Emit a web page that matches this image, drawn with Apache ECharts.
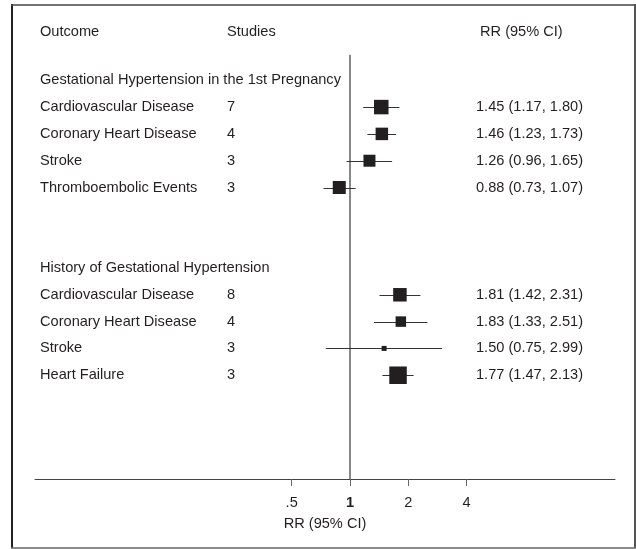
<!DOCTYPE html>
<html><head><meta charset="utf-8">
<script src="https://cdn.jsdelivr.net/npm/echarts@6/dist/echarts.min.js"></script>
<style>html,body{margin:0;padding:0;background:#fff}#c{width:636px;height:549px}</style>
</head><body><div id="c"></div>
<script>
// ---- data ----
var headers = ['Outcome', 'Studies', 'RR (95% CI)'];
var groupTitles = ['Gestational Hypertension in the 1st Pregnancy', 'History of Gestational Hypertension'];
var group1Outcomes = ['Cardiovascular Disease', 'Coronary Heart Disease', 'Stroke', 'Thromboembolic Events'];
var group1Studies = [7, 4, 3, 3];
var group1RR = [1.45, 1.46, 1.26, 0.88];
var group1Lo = [1.17, 1.23, 0.96, 0.73];
var group1Hi = [1.80, 1.73, 1.65, 1.07];
var group1Weight = [14.5, 12.5, 12, 13];
var group2Outcomes = ['Cardiovascular Disease', 'Coronary Heart Disease', 'Stroke', 'Heart Failure'];
var group2Studies = [8, 4, 3, 3];
var group2RR = [1.81, 1.83, 1.50, 1.77];
var group2Lo = [1.42, 1.33, 0.75, 1.47];
var group2Hi = [2.31, 2.51, 2.99, 2.13];
var group2Weight = [13.5, 10.5, 5, 17.5];
var tickValues = [0.5, 1, 2, 4];
var tickLabels = ['.5', '1', '2', '4'];
var axisTitle = 'RR (95% CI)';

// ---- build ----
var FONT = '"Liberation Sans", Arial, Helvetica, sans-serif';
var FS = 14.6;
var TXT = '#231f20';
function fmt(v){ return v.toFixed(2); }
var rows = [];
function addGroup(startRow, outs, st, rr, lo, hi, w){
  for (var i=0;i<outs.length;i++) rows.push({row:startRow+1+i, outcome:outs[i], studies:st[i], rr:rr[i], lo:lo[i], hi:hi[i], w:w[i]});
}
addGroup(0, group1Outcomes, group1Studies, group1RR, group1Lo, group1Hi, group1Weight);
addGroup(7, group2Outcomes, group2Studies, group2RR, group2Lo, group2Hi, group2Weight);
var groupRows = [0, 7];
var headerRow = -1.8;

var forestData = rows.map(function(r){
  return [Math.log2(r.rr), r.row, Math.log2(r.lo), Math.log2(r.hi), r.w];
});
var tickPos = tickValues.map(function(v){ return Math.log2(v); });

var chart = echarts.init(document.getElementById('c'), null, {renderer:'canvas'});
var option = {
  animation: false,
  backgroundColor: '#fff',
  grid: {left: 35, right: 21, top: 32, bottom: 70, containLabel: false},
  xAxis: {
    type: 'value', min: -5.403, max: 4.545,
    splitLine: {show: false},
    axisLine: {show: true, onZero: false, lineStyle: {color: '#444', width: 1}},
    axisTick: {show: true, customValues: tickPos, length: 7, lineStyle: {color: '#666'}},
    axisLabel: {show: true, customValues: tickPos, margin: 16, fontFamily: FONT, fontSize: FS, color: TXT,
      formatter: function(v){
        var i = -1;
        for (var k=0;k<tickPos.length;k++) if (Math.abs(tickPos[k]-v)<1e-6) i=k;
        if (i < 0) return '';
        return tickValues[i] === 1 ? '{b|' + tickLabels[i] + '}' : tickLabels[i];
      },
      rich: {b: {fontWeight: 'bold', fontFamily: FONT, fontSize: FS, color: TXT}}
    },
    name: axisTitle, nameLocation: 'middle', nameGap: 37,
    nameTextStyle: {fontFamily: FONT, fontSize: FS, color: TXT}
  },
  yAxis: {
    type: 'value', inverse: true, min: headerRow, max: 14.87, show: false,
    splitLine: {show: false}
  },
  series: [
    {
      type: 'line', data: [[0, -0.95], [0, 14.87]], symbol: 'none',
      lineStyle: {color: '#111', width: 1}, silent: true, z: 1
    },
    {
      type: 'custom', data: forestData, z: 3,
      renderItem: function(params, api){
        var c = api.coord([api.value(0), api.value(1)]);
        var l = api.coord([api.value(2), api.value(1)]);
        var h = api.coord([api.value(3), api.value(1)]);
        var s = api.value(4);
        var y = Math.round(c[1]) + 0.5;
        return {type: 'group', children: [
          {type: 'line', shape: {x1: l[0], y1: y, x2: h[0], y2: y}, style: {stroke: '#333', lineWidth: 1}},
          {type: 'rect', shape: {x: c[0]-s/2, y: c[1]-s/2, width: s, height: s}, style: {fill: '#231f20'}}
        ]};
      }
    }
  ]
};
chart.setOption(option);

function yOf(r){ return chart.convertToPixel({gridIndex: 0}, [0, r])[1]; }
var colX = [40, 227, 476];
var headerX = [40, 227, 480];
var g = [];
function txt(x, y, s){
  g.push({type: 'text', x: x, y: y, style: {text: String(s), fill: TXT, font: FS + 'px ' + FONT, textVerticalAlign: 'middle', textAlign: 'left'}});
}
headers.forEach(function(h, i){ txt(headerX[i], yOf(headerRow), h); });
groupRows.forEach(function(r, i){ txt(colX[0], yOf(r), groupTitles[i]); });
rows.forEach(function(r){
  var y = yOf(r.row);
  txt(colX[0], y, r.outcome);
  txt(colX[1], y, r.studies);
  txt(colX[2], y, fmt(r.rr) + ' (' + fmt(r.lo) + ', ' + fmt(r.hi) + ')');
});
// frame
g.push({type: 'line', shape: {x1: 12, y1: 4, x2: 12, y2: 548}, style: {stroke: '#222', lineWidth: 2}});
g.push({type: 'line', shape: {x1: 11, y1: 5, x2: 635, y2: 5}, style: {stroke: '#444', lineWidth: 1.5}});
g.push({type: 'line', shape: {x1: 635, y1: 4, x2: 635, y2: 548}, style: {stroke: '#555', lineWidth: 2}});
g.push({type: 'line', shape: {x1: 11, y1: 548, x2: 636, y2: 548}, style: {stroke: '#666', lineWidth: 1.5}});
chart.setOption({graphic: {elements: g}});
</script></body></html>
